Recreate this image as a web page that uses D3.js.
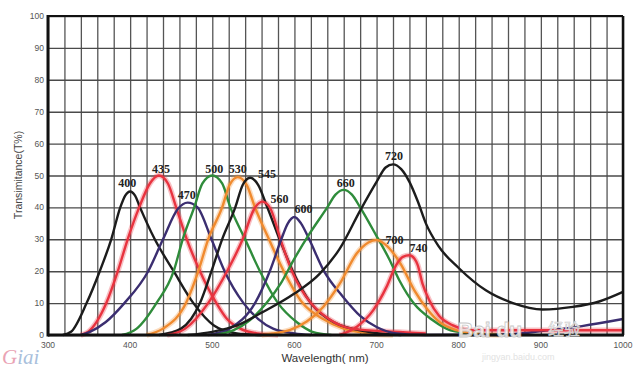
<!DOCTYPE html>
<html>
<head>
<meta charset="utf-8">
<script src="https://cdn.jsdelivr.net/npm/d3@7"></script>
<style>
  body { margin: 0; background: #fff; }
  svg { display: block; }
</style>
</head>
<body>
<svg id="chart" width="640" height="371"></svg>
<script>
// filter curves, [wavelength nm, transmittance %]
const f400 = [[318,0],[328,1],[347,10],[363,20],[377,30],[388,40],[394,43.7],[400,45],[406,43.7],[412,40],[430,30],[453,20],[477,10],[502,3],[530,0.5],[560,0]]
const f435 = [[340,0],[349,1],[371,10],[385,20],[397,30],[411,40],[424,47.5],[435,50],[446,47.5],[456,40],[469,30],[485,20],[505,10],[518,5],[534,2],[555,0.5],[580,0]]
const f470 = [[340,0],[351,1],[370,4],[393,10],[422,20],[440,30],[458,39.5],[470,41.5],[482,40],[499,30],[515,20],[538,10],[556,5],[574,2],[600,0.5],[620,0]]
const f500 = [[390,0],[408,2],[432,10],[453,20],[464,30],[478,40],[488,47.5],[500,50],[512,47.5],[522,40],[540,30],[558,20],[580,10],[603,4],[622,1],[645,0]]
const f530 = [[420,0],[440,2],[468,10],[483,20],[495,30],[512,40],[521,47],[531,49.5],[542,47],[552,40],[569,30],[587,20],[610,10],[635,5],[660,2],[690,0.5],[720,0]]
const f545 = [[435,0],[462,2],[485,10],[499,20],[512,30],[528,40],[537,47],[546,49.3],[556,47],[567,40],[582,30],[598,20],[620,10],[648,4],[690,1],[730,0]]
const f560 = [[445,0],[467,2],[495,10],[518,20],[537,30],[551,39.5],[561,41.8],[571,39.5],[583,30],[597,20],[620,10],[642,5],[670,2],[720,1],[760,0.5]]
const f600 = [[495,0],[521,2],[552,10],[570,20],[584,30],[592,35],[600,37],[608,35],[618,30],[636,20],[659,12],[680,6],[700,2.5],[724,0.5],[760,0],[860,0.2],[900,1.2],[950,2.8],[1000,5]]
const f660 = [[505,0],[526,1.5],[546,4.7],[566,10],[583,16],[599,23.5],[619,32],[640,40],[650,44],[660,45.5],[670,44],[680,40],[700,31],[715,24],[728,17],[745,10],[768,4.7],[790,1.5],[820,0.5],[850,0]]
const f700 = [[560,0],[575,0.5],[595,1.6],[615,4.2],[635,8.8],[655,16],[676,25.6],[690,29],[700,29.8],[710,28.5],[730,22],[746,14],[762,8],[777,4],[797,1.5],[820,0.5],[850,0]]
const f720 = [[470,0],[500,1],[530,3],[560,7],[600,13],[630,19],[655,27],[680,39],[700,48],[711,52.5],[720,53.5],[730,52],[740,48],[750,42],[760,35],[775,28],[800,21],[833,14],[866,10],[902,8],[939,8.8],[971,10.5],[1000,13.5]]
const f740 = [[655,0],[676,2.6],[696,7.8],[712,15],[724,22],[732,24.5],[740,25],[746,24],[750,22],[756,16],[764,11],[776,6],[793,3],[817,1.5],[1000,1.5]]

const names = ["400","435","470","500","530","545","560","600","660","700","720","740"]
const curves = [f400, f435, f470, f500, f530, f545, f560, f600, f660, f700, f720, f740]

const xTicks = [300, 400, 500, 600, 700, 800, 900, 1000]
const yTicks = [0, 10, 20, 30, 40, 50, 60, 70, 80, 90, 100]

const black = "#1c1c1c", red = "#e8333f", purple = "#3b2e70", green = "#2f8c3b", orange = "#f08a2e"
const color = {
    "400": black, "435": red, "470": purple, "500": green, "530": orange, "545": black,
    "560": red, "600": purple, "660": green, "700": orange, "720": black, "740": red
}
// label offset from the peak, px
const labelOff = {
    "400": [-3, -4], "435": [2, -3], "470": [-1, -4], "500": [2, -3], "530": [0, -4], "545": [17, 0],
    "560": [17, 1], "600": [9, -4], "660": [2, -3], "700": [18, 4], "720": [1, -4], "740": [9, -3]
}

const svg = d3.select("#chart")
const mLeft = 48, mRight = 623, mTop = 16, mBottom = 335

const x = d3.scaleLinear().domain([300, 1000]).range([mLeft, mRight])
const y = d3.scaleLinear().domain([0, 100]).range([mBottom, mTop])

// grid
svg.append("g")
    .attr("transform", `translate(0,${mBottom})`)
    .call(d3.axisBottom(x).tickValues(d3.range(300, 1001, 20)).tickSize(-(mBottom - mTop)).tickFormat(""))
    .call(g => g.select(".domain").remove())
    .call(g => g.selectAll("line").attr("stroke", "#555").attr("stroke-width", 1.3))

svg.append("g")
    .attr("transform", `translate(${mLeft},0)`)
    .call(d3.axisLeft(y).tickValues(yTicks).tickSize(-(mRight - mLeft)).tickFormat(""))
    .call(g => g.select(".domain").remove())
    .call(g => g.selectAll("line").attr("stroke", "#4a4a4a").attr("stroke-width", 1.4))

// curves
const line = d3.line()
    .x(d => x(d[0]))
    .y(d => y(d[1]))
    .curve(d3.curveMonotoneX)

const plot = svg.append("g")
curves.forEach((c, i) => {
    const col = color[names[i]]
    if (col === red || col === orange) {
        plot.append("path").attr("d", line(c)).attr("fill", "none")
            .attr("stroke", col).attr("stroke-opacity", 0.3).attr("stroke-width", 5.5)
    }
})
curves.forEach((c, i) => {
    plot.append("path").attr("d", line(c)).attr("fill", "none")
        .attr("stroke", color[names[i]]).attr("stroke-width", 2.4)
        .attr("stroke-linejoin", "round")
})

// peak labels
curves.forEach((c, i) => {
    const pk = c.reduce((a, b) => b[1] > a[1] ? b : a)
    const off = labelOff[names[i]]
    svg.append("text")
        .attr("x", x(pk[0]) + off[0])
        .attr("y", y(pk[1]) + off[1])
        .attr("text-anchor", "middle")
        .attr("font-family", "Liberation Serif, DejaVu Serif, serif")
        .attr("font-weight", "bold")
        .attr("font-size", 12)
        .attr("fill", "#222")
        .text(names[i])
})

// frame
svg.append("line").attr("x1", mLeft).attr("x2", mRight).attr("y1", mTop).attr("y2", mTop)
    .attr("stroke", "#111").attr("stroke-width", 2)
svg.append("line").attr("x1", mRight).attr("x2", mRight).attr("y1", mTop).attr("y2", mBottom)
    .attr("stroke", "#111").attr("stroke-width", 2.5)
svg.append("line").attr("x1", mLeft).attr("x2", mRight + 1).attr("y1", mBottom).attr("y2", mBottom)
    .attr("stroke", "#111").attr("stroke-width", 3)
svg.append("line").attr("x1", mLeft).attr("x2", mLeft).attr("y1", mTop - 1).attr("y2", mBottom + 1.5)
    .attr("stroke", "#111").attr("stroke-width", 3)

// tick labels
svg.append("g").selectAll("text").data(yTicks).join("text")
    .attr("x", 44).attr("y", d => y(d) + 3)
    .attr("text-anchor", "end")
    .attr("font-family", "Liberation Sans, Arial, sans-serif")
    .attr("font-size", 8.5).attr("fill", "#555")
    .text(d => d)

svg.append("g").selectAll("text").data(xTicks).join("text")
    .attr("x", d => x(d)).attr("y", 348)
    .attr("text-anchor", "middle")
    .attr("font-family", "Liberation Sans, Arial, sans-serif")
    .attr("font-size", 8.5).attr("fill", "#555")
    .text(d => d)

// axis titles
svg.append("text")
    .attr("transform", `translate(22,175) rotate(-90)`)
    .attr("text-anchor", "middle")
    .attr("font-family", "Liberation Sans, Arial, sans-serif")
    .attr("font-size", 10.5).attr("fill", "#444")
    .text("Transimitance(T%)")

svg.append("text")
    .attr("x", 325).attr("y", 362)
    .attr("text-anchor", "middle")
    .attr("font-family", "Liberation Sans, Arial, sans-serif")
    .attr("font-size", 11.5).attr("fill", "#333")
    .text("Wavelength( nm)")

// watermarks
const wm = svg.append("text")
    .attr("x", 2).attr("y", 364)
    .attr("font-family", "Liberation Serif, serif")
    .attr("font-style", "italic")
    .attr("font-size", 21)
wm.append("tspan").attr("fill", "#eaa3b4").text("G")
wm.append("tspan").attr("fill", "#a9bfdc").text("iai")

svg.append("text")
    .attr("x", 458).attr("y", 337)
    .attr("font-family", "Liberation Sans, Arial, sans-serif")
    .attr("font-weight", "bold").attr("font-size", 21)
    .attr("fill", "#fff").attr("fill-opacity", 0.85)
    .attr("stroke", "#c8c8c8").attr("stroke-width", 0.8)
    .text("Bai du")
svg.append("text")
    .attr("x", 548).attr("y", 335)
    .attr("font-family", "Noto Sans CJK SC, sans-serif")
    .attr("font-size", 16)
    .attr("fill", "#fff").attr("fill-opacity", 0.85)
    .attr("stroke", "#c8c8c8").attr("stroke-width", 0.6)
    .text("经验")
svg.append("text")
    .attr("x", 482).attr("y", 360)
    .attr("font-family", "Liberation Sans, Arial, sans-serif")
    .attr("font-size", 9).attr("fill", "#e2e2e2")
    .text("jingyan.baidu.com")
</script>
</body>
</html>
